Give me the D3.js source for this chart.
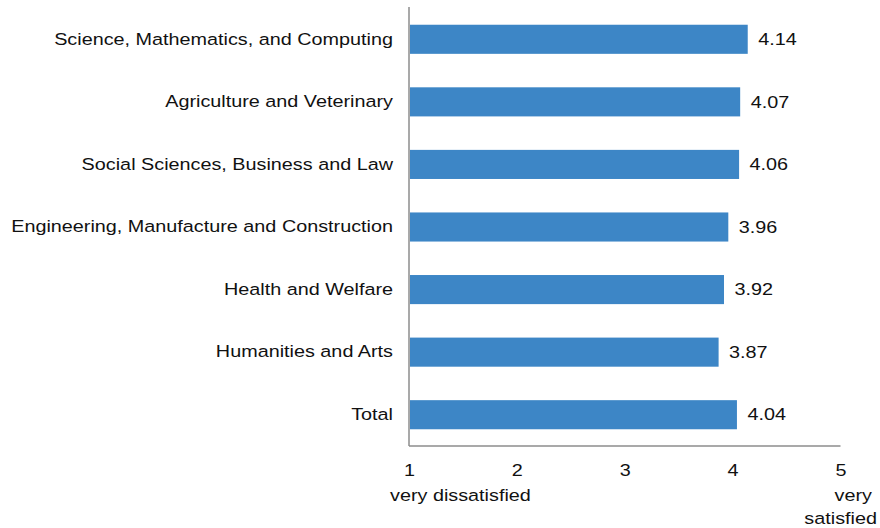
<!DOCTYPE html>
<html>
<head>
<meta charset="utf-8">
<script src="https://cdn.jsdelivr.net/npm/d3@7"></script>
<style>
  html, body { margin: 0; padding: 0; background: #fff; }
  svg { display: block; font-family: "Liberation Sans", Arial, sans-serif; }
</style>
</head>
<body>
<svg id="chart" width="880" height="528"></svg>
<script>
// Mean satisfaction by field of study (1 = very dissatisfied, 5 = very satisfied)
const categories = [
  "Science, Mathematics, and Computing",
  "Agriculture and Veterinary",
  "Social Sciences, Business and Law",
  "Engineering, Manufacture and Construction",
  "Health and Welfare",
  "Humanities and Arts",
  "Total"
];
const values = [4.14, 4.07, 4.06, 3.96, 3.92, 3.87, 4.04];
const tickValues = [1, 2, 3, 4, 5];
const scaleEndLabels = { low: "very dissatisfied", high: ["very", "satisfied"] };

(function () {
  const svg = d3.select("#chart");
  const plotLeft = 409, plotRight = 840.5, plotTop = 8, plotBottom = 446;
  const fontSize = 16.5;
  const widen = 1.2;            // horizontal stretch of the lettering
  const textColor = "#111";
  const barColor = "#3d86c6";
  const axisColor = "#8c8c8c";

  // widen text horizontally while keeping its anchor point in place
  function stretch(sel) {
    sel.each(function () {
      const t = d3.select(this);
      const x0 = +t.attr("x") || 0;
      t.attr("transform", `translate(${x0 * (1 - widen)},0) scale(${widen},1)`);
    });
  }

  const x = d3.scaleLinear().domain([1, 5]).range([plotLeft, plotRight]);
  const y = d3.scaleBand()
    .domain(categories)
    .range([plotTop, plotBottom])
    .paddingInner(0.535)
    .paddingOuter(0.2675);

  const data = categories.map((c, i) => ({ category: c, value: values[i] }));

  // bars
  svg.append("g").selectAll("rect")
    .data(data)
    .join("rect")
    .attr("x", x(1) + 1)
    .attr("y", d => y(d.category))
    .attr("width", d => x(d.value) - x(1) - 1)
    .attr("height", y.bandwidth())
    .attr("fill", barColor);

  // value labels
  svg.append("g").selectAll("text")
    .data(data)
    .join("text")
    .attr("x", d => x(d.value) + 10.5)
    .attr("y", d => y(d.category) + y.bandwidth() / 2)
    .attr("dy", "0.35em")
    .attr("font-size", fontSize)
    .attr("fill", textColor)
    .text(d => d.value.toFixed(2))
    .call(stretch);

  // category axis
  const yAxis = svg.append("g")
    .attr("transform", `translate(${plotLeft},0)`)
    .call(d3.axisLeft(y).tickSize(0).tickPadding(16));
  yAxis.select(".domain").attr("stroke", axisColor).attr("stroke-width", 1.5)
    .attr("d", `M0,${plotTop - 1}V${plotBottom}`);
  yAxis.selectAll(".tick text")
    .attr("font-size", fontSize).attr("fill", textColor)
    .attr("font-family", "Liberation Sans, Arial, sans-serif")
    .call(stretch);

  // value axis
  const xAxis = svg.append("g")
    .attr("transform", `translate(0,${plotBottom})`)
    .call(d3.axisBottom(x).tickValues(tickValues).tickFormat(d3.format("d")).tickSize(0).tickPadding(18));
  xAxis.select(".domain").attr("stroke", axisColor).attr("stroke-width", 1.5)
    .attr("d", `M${plotLeft},0H${plotRight}`);
  xAxis.selectAll(".tick text")
    .attr("font-size", fontSize).attr("fill", textColor)
    .attr("font-family", "Liberation Sans, Arial, sans-serif")
    .call(stretch);

  // scale end descriptions
  svg.append("text")
    .attr("x", 390).attr("y", 501)
    .attr("font-size", fontSize).attr("fill", textColor)
    .text(scaleEndLabels.low)
    .call(stretch);

  const highPos = [{ x: 872, y: 501 }, { x: 877, y: 524 }];
  svg.append("g").selectAll("text")
    .data(scaleEndLabels.high)
    .join("text")
    .attr("text-anchor", "end")
    .attr("font-size", fontSize).attr("fill", textColor)
    .attr("x", (d, i) => highPos[i].x)
    .attr("y", (d, i) => highPos[i].y)
    .text(d => d)
    .call(stretch);
})();
</script>
</body>
</html>
